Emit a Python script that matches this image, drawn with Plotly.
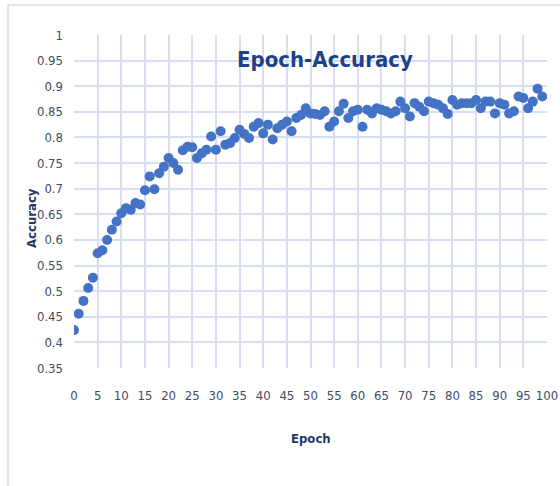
import plotly.graph_objects as go

# Training accuracy recorded at each epoch
epochs = list(range(100))
accuracy = [
    0.424, 0.456, 0.481, 0.506, 0.526, 0.574, 0.580, 0.600, 0.620, 0.636,
    0.652, 0.662, 0.659, 0.672, 0.669, 0.697, 0.724, 0.699, 0.730, 0.743,
    0.760, 0.750, 0.737, 0.775, 0.782, 0.781, 0.760, 0.769, 0.776, 0.802,
    0.776, 0.812, 0.786, 0.789, 0.799, 0.815, 0.807, 0.799, 0.821, 0.828,
    0.808, 0.825, 0.796, 0.818, 0.825, 0.831, 0.812, 0.838, 0.844, 0.857,
    0.847, 0.846, 0.844, 0.851, 0.821, 0.831, 0.851, 0.866, 0.838, 0.851,
    0.854, 0.821, 0.854, 0.847, 0.857, 0.854, 0.851, 0.847, 0.851, 0.870,
    0.857, 0.841, 0.867, 0.860, 0.851, 0.870, 0.867, 0.864, 0.857, 0.846,
    0.873, 0.864, 0.867, 0.867, 0.867, 0.873, 0.857, 0.870, 0.870, 0.847,
    0.867, 0.864, 0.847, 0.851, 0.880, 0.877, 0.857, 0.870, 0.895, 0.880,
]

x_ticks = list(range(0, 101, 5))
y_ticks = [round(0.35 + 0.05 * i, 2) for i in range(14)]
y_tick_text = [("%g" % v) for v in y_ticks]

FONT = "DejaVu Sans Condensed, Liberation Sans Narrow, sans-serif"
GRID = "#D5DFF1"
TICK_COLOR = "#3E4C66"
TITLE_COLOR = "#1F3F86"
AXIS_TITLE_COLOR = "#1F3864"

fig = go.Figure()
fig.add_trace(go.Scatter(
    x=epochs, y=accuracy, mode="markers",
    marker=dict(size=10, color="#4472C4", line=dict(width=0)),
    hoverinfo="x+y", showlegend=False,
))

fig.update_layout(
    width=560, height=486,
    margin=dict(l=74, r=13, t=35, b=118),
    paper_bgcolor="white", plot_bgcolor="white",
    font=dict(family=FONT, color=TICK_COLOR, size=13),
    xaxis=dict(
        range=[0, 100], tickvals=x_ticks, showgrid=True, gridcolor=GRID, gridwidth=1.6,
        zeroline=False, showline=False, ticks="", ticklabelstandoff=18, automargin=False,
        tickfont=dict(size=13, color=TICK_COLOR), fixedrange=True,
    ),
    yaxis=dict(
        range=[0.35, 1.0], tickvals=y_ticks, ticktext=y_tick_text, showgrid=True,
        gridcolor=GRID, gridwidth=1.6, zeroline=False, showline=False, ticks="",
        ticklabelstandoff=10, automargin=False,
        tickfont=dict(size=13, color=TICK_COLOR), fixedrange=True,
    ),
    shapes=[
        # light frame around the chart area
        dict(type="rect", xref="paper", yref="paper",
             x0=(8 - 74) / 473, x1=1.2, y0=-0.6, y1=(368 - 5) / 333,
             line=dict(color="#D6DCE5", width=1.5), layer="below"),
    ],
    annotations=[
        dict(text="<b>Epoch-Accuracy</b>", xref="paper", yref="paper",
             x=(325 - 74) / 473, y=(368 - 60) / 333, showarrow=False,
             xanchor="center", yanchor="middle",
             font=dict(family=FONT, size=22, color=TITLE_COLOR)),
        dict(text="<b>Epoch</b>", xref="paper", yref="paper",
             x=(311 - 74) / 473, y=(368 - 438) / 333, showarrow=False,
             xanchor="center", yanchor="middle",
             font=dict(family=FONT, size=13, color=AXIS_TITLE_COLOR)),
        dict(text="<b>Accuracy</b>", xref="paper", yref="paper",
             x=(32 - 74) / 473, y=(368 - 218) / 333, showarrow=False, textangle=-90,
             xanchor="center", yanchor="middle",
             font=dict(family=FONT, size=13, color=AXIS_TITLE_COLOR)),
    ],
)

fig.write_html("out.html")
